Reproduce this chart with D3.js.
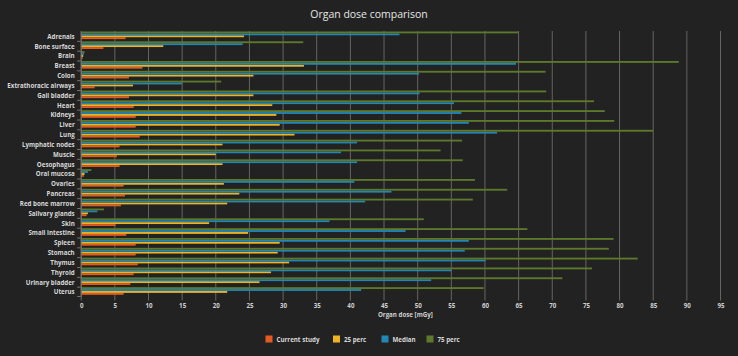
<!DOCTYPE html>
<html><head><meta charset="utf-8">
<script src="https://cdn.jsdelivr.net/npm/d3@7"></script>
<style>
html,body{margin:0;padding:0;background:#222222;}
svg{display:block;}
</style></head>
<body>
<svg id="chart" width="738" height="356"></svg>
<script>
const categories = ["Adrenals","Bone surface","Brain","Breast","Colon","Extrathoracic airways","Gall bladder","Heart","Kidneys","Liver","Lung","Lymphatic nodes","Muscle","Oesophagus","Oral mucosa","Ovaries","Pancreas","Red bone marrow","Salivary glands","Skin","Small intestine","Spleen","Stomach","Thymus","Thyroid","Urinary bladder","Uterus"];
const currentStudy = [6.6,3.3,0.2,9.1,7.1,2.0,7.1,7.8,8.1,8.1,8.7,5.7,5.3,5.7,0.4,6.3,6.5,5.9,0.8,5.1,6.7,8.1,8.1,8.4,7.8,7.3,6.3];
const perc25 = [24.2,12.2,0.3,33.1,25.6,7.7,25.6,28.4,29.0,29.5,31.7,21.0,20.0,21.0,0.5,21.2,23.5,21.7,1.0,19.0,24.8,29.5,29.2,30.9,28.2,26.5,21.7];
const median = [47.3,24.0,0.4,64.6,50.2,15.0,50.3,55.4,56.5,57.6,61.8,41.0,38.6,41.0,1.0,40.6,46.1,42.2,2.4,36.9,48.2,57.6,57.0,60.1,55.0,52.0,41.6];
const perc75 = [64.9,33.0,0.5,88.8,69.0,20.8,69.1,76.2,77.8,79.2,85.0,56.6,53.4,56.7,1.5,58.5,63.3,58.2,3.4,50.9,66.3,79.1,78.4,82.7,75.9,71.5,59.8];
const xTicks = [0,5,10,15,20,25,30,35,40,45,50,55,60,65,70,75,80,85,90,95];
const seriesNames = ["Current study","25 perc","Median","75 perc"];
const seriesColors = ["#e55a22","#eeb422","#2486b4","#5d7a2c"];
const seriesData = [currentStudy, perc25, median, perc75];

const svg = d3.select("#chart");
svg.append("rect").attr("width",738).attr("height",356).attr("fill","#222222");

const margin = {left:80.7, right:718, top:31, bottom:296.5};
const x = d3.scaleLinear().domain([0,95]).range([margin.left, 720]);
const y = d3.scaleBand().domain(categories).range([margin.top, margin.bottom]).padding(0);
// draw order top->bottom inside a band: 75 perc, Median, 25 perc, Current study
const stackOrder = ["75 perc","Median","25 perc","Current study"];
const yInner = d3.scaleBand().domain(stackOrder).range([0.4, y.bandwidth()-1.6]).padding(0.05);

// title
svg.append("text").attr("x",369).attr("y",17.5).attr("text-anchor","middle")
  .attr("fill","#e6e6e6").attr("font-family","Open Sans, sans-serif").attr("font-size",10.5)
  .text("Organ dose comparison");

// grid lines
svg.append("g").selectAll("line").data(xTicks).join("line")
  .attr("x1",d=>x(d)+0.5).attr("x2",d=>x(d)+0.5)
  .attr("y1",margin.top).attr("y2",margin.bottom+4)
  .attr("stroke","#6a6460").attr("stroke-width",1);

// bars
const gBars = svg.append("g");
seriesNames.forEach((name,si)=>{
  gBars.append("g").selectAll("rect").data(categories).join("rect")
    .attr("x",x(0)+0.5)
    .attr("y",(c)=>y(c)+yInner(name))
    .attr("width",(c,i)=>Math.max(0,x(seriesData[si][i])-x(0)))
    .attr("height",yInner.bandwidth())
    .attr("fill",seriesColors[si]);
});

// y axis
const yAxis = d3.axisLeft(y).tickSize(0).tickPadding(6);
const gy = svg.append("g").attr("transform",`translate(${x(0)},0)`).call(yAxis);
gy.select(".domain").attr("stroke","#7a7470");
gy.selectAll("text").attr("fill","#d8d8d8").attr("font-family","Open Sans, sans-serif")
  .attr("font-size",6.2).attr("font-weight",700).attr("dy","0.45em");
// band-boundary ticks
svg.append("g").selectAll("line").data(categories.slice(1).concat(["__end"])).join("line")
  .attr("x1",x(0)-3.5).attr("x2",x(0))
  .attr("y1",(c,i)=> i<categories.length-1 ? y(c)+0.5 : margin.bottom)
  .attr("y2",(c,i)=> i<categories.length-1 ? y(c)+0.5 : margin.bottom)
  .attr("stroke","#7a7470");

// x axis labels
const xAxis = d3.axisBottom(x).tickValues(xTicks).tickSize(0).tickPadding(7);
const gx = svg.append("g").attr("transform",`translate(0.5,${margin.bottom})`).call(xAxis);
gx.select(".domain").remove();
gx.selectAll("text").attr("fill","#d0d0d0").attr("font-family","Open Sans, sans-serif")
  .attr("font-size",6.2).attr("font-weight",700);

svg.append("text").attr("x",(x(0)+x(95))/2+5).attr("y",317).attr("text-anchor","middle")
  .attr("fill","#d0d0d0").attr("font-family","Open Sans, sans-serif").attr("font-size",6.2).attr("font-weight",700)
  .text("Organ dose [mGy]");

// legend
const legendX = [265.5, 333, 381.5, 426.5];
const lg = svg.append("g");
seriesNames.forEach((name,i)=>{
  lg.append("rect").attr("x",legendX[i]).attr("y",335.5).attr("width",7).attr("height",7)
    .attr("fill",seriesColors[i]);
  lg.append("text").attr("x",legendX[i]+11).attr("y",341.5).attr("fill","#d8d8d8")
    .attr("font-family","Open Sans, sans-serif").attr("font-size",6.2).attr("font-weight",700)
    .text(name);
});
</script>
</body></html>
